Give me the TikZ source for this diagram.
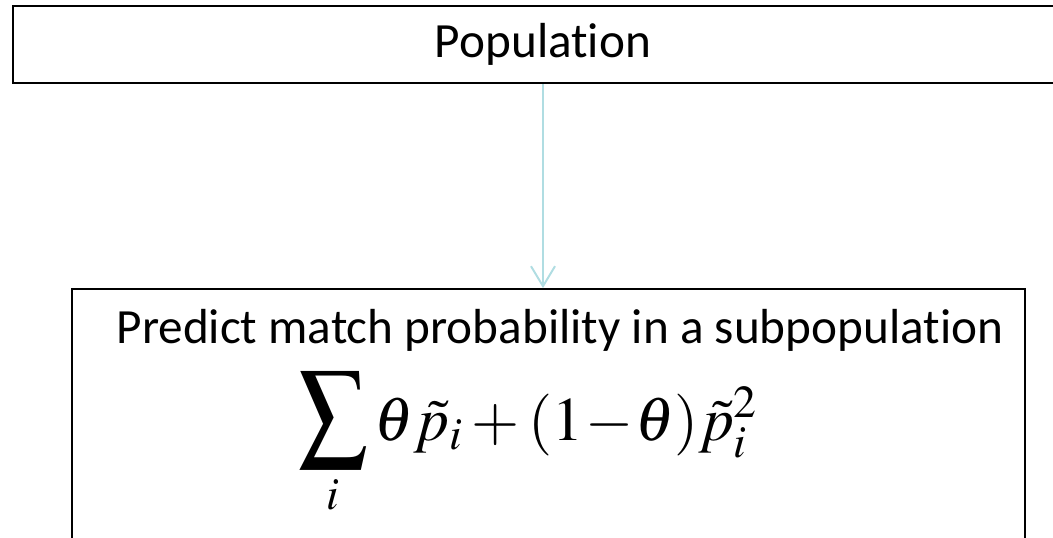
\documentclass[tikz,border=0pt]{standalone}
\usepackage{amsmath}
\usepackage{graphicx}
\usepackage{mathptmx}
\usepackage[no-math]{fontspec}
\setmainfont{Carlito}[Ligatures=NoCommon]
\usepackage{xcolor}
\usetikzlibrary{arrows.meta, positioning}

\definecolor{arrteal}{RGB}{176,221,226}

\begin{document}
\begin{tikzpicture}[
    x=0.025cm, y=-0.025cm,
    font=\fontsize{35}{42}\selectfont,
    topbox/.style={draw, line width=1.8pt, rectangle, minimum width=26.5cm, minimum height=1.925cm, inner sep=0pt},
    predbox/.style={draw, line width=1.2pt, rectangle, minimum width=23.825cm, minimum height=6.775cm, inner sep=0pt},
    txt/.style={inner sep=0pt},
    arr/.style={-{Straight Barb[length=0.5cm, width=0.6cm, line width=1.4pt]}, line width=1.4pt, arrteal}
]
\useasboundingbox (0,0) rectangle (1053,538);

\node[topbox] (pop) at (543,44.5) {Population};
\node[predbox] (pred) at (548.5,424.5) {};

\node[txt, anchor=base] (predtxt) at (560,343) {Predict match probability in a subpopulation};
\node[txt, anchor=base west, font=\fontsize{44}{53}\selectfont] (formula) at (298,440)
    {$\mathop{\scalebox{1.1}[1.27]{$\displaystyle\sum$}}\limits_i\theta\tilde{p}_i+(1\mskip-2mu-\mskip-2mu\theta)\tilde{p}_i^{2}$};

\draw[arr] (pop.south) -- (pop.south |- pred.north);

\end{tikzpicture}
\end{document}
